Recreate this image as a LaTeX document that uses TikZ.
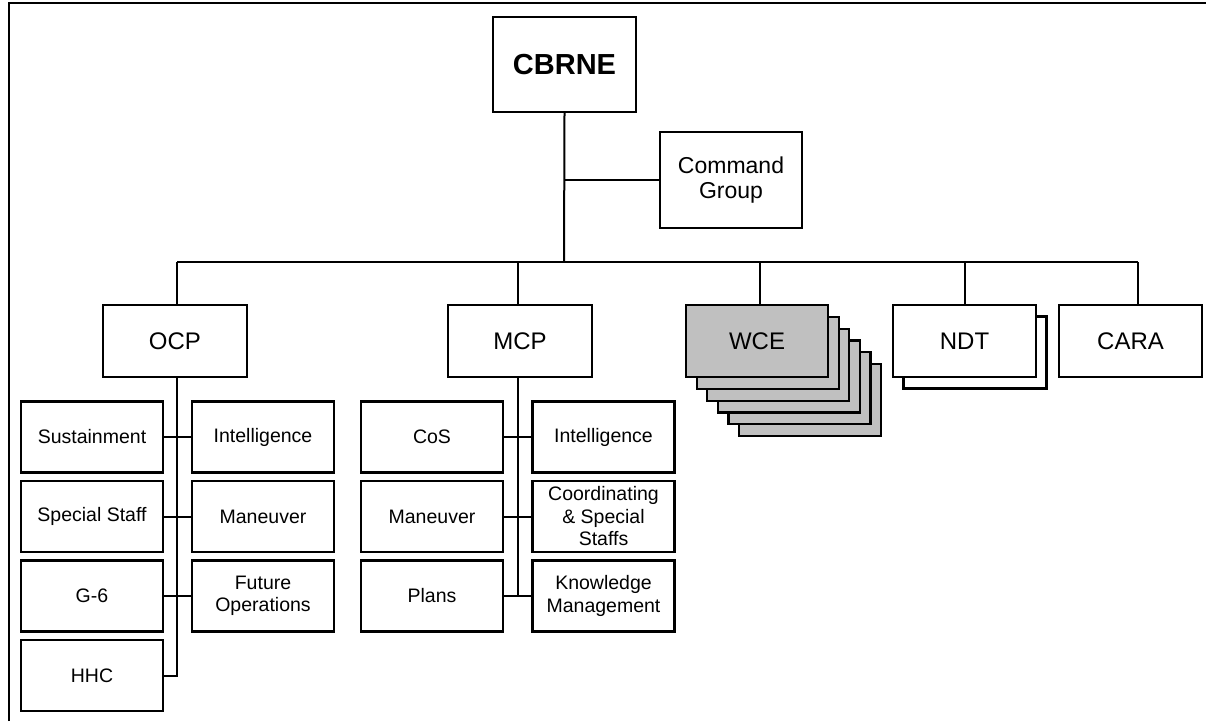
\documentclass[tikz,border=0pt]{standalone}
\usepackage{fontspec}
\setmainfont{Liberation Sans}
\begin{document}
\begin{tikzpicture}[x=1pt,y=-1pt,
  box/.style={draw=black,line width=2.2pt,fill=white,inner sep=0pt,align=center,
    minimum width=142pt,minimum height=71pt,font=\fontsize{19.5}{22.5}\selectfont},
  topbox/.style={box,minimum height=72pt,font=\fontsize{24}{26}\selectfont},
  wcebox/.style={topbox,fill=wcegray},
  conn/.style={draw=black,line width=2pt}]
\definecolor{wcegray}{HTML}{C0C0C0}
\useasboundingbox (0,0) rectangle (1206,721);
\fill[white] (0,0) rectangle (1206,721);
% partial frame
\draw[line width=2.8pt] (9,721) -- (9,3) -- (1206,3);

% top level
\node[box,minimum width=143pt,minimum height=95pt,font=\fontsize{29}{32}\selectfont\bfseries] (cbrne) at (564.5,64.5) {CBRNE};
\node[box,minimum height=96pt,font=\fontsize{23}{25}\selectfont] (cmd) at (731,180) {Command\\Group};

% second level
\node[topbox,minimum width=144pt] (ocp) at (175,341) {OCP};
\node[topbox,minimum width=144pt] (mcp) at (520,341) {MCP};
\foreach \k in {5,4,3,2,1}{
  \node[wcebox,minimum width=142pt] (wce\k) at ({757+10.6*\k},{341+11.8*\k}) {};
}
\node[wcebox,minimum width=142pt] (wce) at (757,341) {WCE};
\node[topbox,minimum width=143pt] (ndtback) at (975,352.5) {};
\node[topbox,minimum width=143pt] (ndt) at (964.5,341) {NDT};
\node[topbox,minimum width=143pt] (cara) at (1130.5,341) {CARA};

% OCP column
\node[box] (sust) at (92,437) {Sustainment};
\node[box] (ointel) at (263,437) {Intelligence};
\node[box] (spec) at (92,516.5) {Special Staff};
\node[box] (oman) at (263,516.5) {Maneuver};
\node[box] (g6) at (92,596) {G-6};
\node[box] (fut) at (263,596) {Future\\Operations};
\node[box] (hhc) at (92,675.5) {HHC};

% MCP column
\node[box] (cos) at (432,437) {CoS};
\node[box] (mintel) at (603.5,437) {Intelligence};
\node[box] (mman) at (432,516.5) {Maneuver};
\node[box] (coord) at (603.5,516.5) {Coordinating\\\&~Special\\Staffs};
\node[box] (plans) at (432,596) {Plans};
\node[box] (know) at (603.5,596) {Knowledge\\Management};

% bus
\coordinate (bus) at (564,262);
\draw[conn] (cbrne.south) -- (bus);
\draw[conn] (cbrne.south |- cmd.west) -- (cmd.west);
\draw[conn] ([xshift=2pt]ocp.north |- bus) -- ([xshift=7.5pt]cara.north |- bus);
\draw[conn] ([xshift=2pt]ocp.north |- bus) -- ([xshift=2pt]ocp.north);
\draw[conn] ([xshift=-2pt]mcp.north |- bus) -- ([xshift=-2pt]mcp.north);
\draw[conn] ([xshift=3pt]wce.north |- bus) -- ([xshift=3pt]wce.north);
\draw[conn] (ndt.north |- bus) -- (ndt.north);
\draw[conn] ([xshift=7.5pt]cara.north |- bus) -- ([xshift=7.5pt]cara.north);

% OCP spine
\draw[conn] ([xshift=2pt]ocp.south) -- ([xshift=2pt]ocp.south |- hhc.east) -- (hhc.east);
\draw[conn] (sust.east) -- (ointel.west);
\draw[conn] (spec.east) -- (oman.west);
\draw[conn] (g6.east) -- (fut.west);

% MCP spine
\draw[conn] ([xshift=-2pt]mcp.south) -- ([xshift=-2pt]mcp.south |- plans.east);
\draw[conn] (cos.east) -- (mintel.west);
\draw[conn] (mman.east) -- (coord.west);
\draw[conn] (plans.east) -- (know.west);
\end{tikzpicture}
\end{document}
